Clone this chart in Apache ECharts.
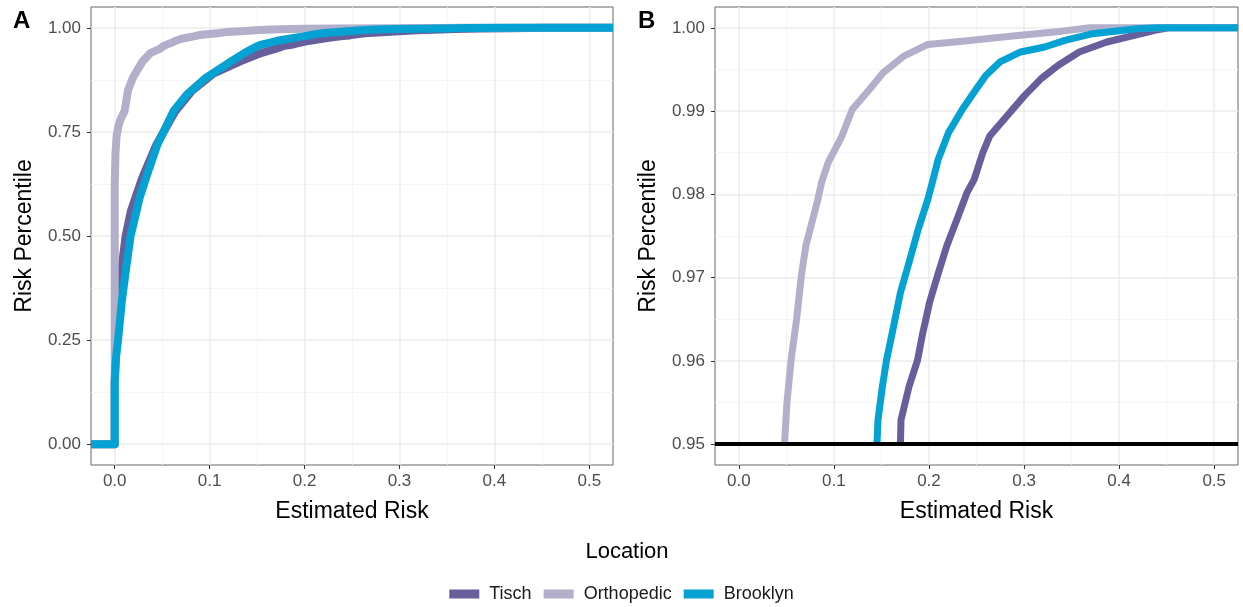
<!DOCTYPE html>
<html>
<head>
<meta charset="utf-8">
<script src="https://cdn.jsdelivr.net/npm/echarts@6/dist/echarts.min.js"></script>
<style>
  html, body { margin: 0; padding: 0; background: #ffffff; }
  #chart { width: 1243px; height: 607px; }
</style>
</head>
<body>
<div id="chart"></div>
<script>
// Cumulative distribution of estimated risk by location (ECDF, read as risk -> percentile)
const locations = ['Tisch', 'Orthopedic', 'Brooklyn'];

const tischRisk = [0.000, 0.000, 0.001, 0.002, 0.004, 0.0076, 0.0115, 0.017, 0.0215, 0.029, 0.044, 0.064, 0.082, 0.104, 0.133, 0.155, 0.170, 0.1706, 0.179, 0.188, 0.1934, 0.2006, 0.2089, 0.2187, 0.2295, 0.240, 0.2476, 0.2566, 0.2639, 0.282, 0.300, 0.318, 0.336, 0.358, 0.387, 0.416, 0.4375, 0.452];
const tischPct  = [0, 0.15, 0.20, 0.26, 0.35, 0.43, 0.50, 0.56, 0.59, 0.64, 0.72, 0.80, 0.85, 0.89, 0.92, 0.94, 0.95, 0.9529, 0.9569, 0.9601, 0.9633, 0.9670, 0.9702, 0.9738, 0.9770, 0.9802, 0.9818, 0.9850, 0.9870, 0.9894, 0.9918, 0.9939, 0.9955, 0.9971, 0.9983, 0.9991, 0.9997, 1.0];

const orthoRisk = [0.000, 0.000, 0.0008, 0.002, 0.0035, 0.006, 0.0104, 0.014, 0.0191, 0.0295, 0.038, 0.0481, 0.0506, 0.055, 0.0607, 0.0658, 0.0705, 0.0759, 0.0832, 0.087, 0.094, 0.1085, 0.1193, 0.1374, 0.1518, 0.1735, 0.1988, 0.235, 0.2856, 0.340, 0.369];
const orthoPct  = [0, 0.62, 0.70, 0.74, 0.76, 0.78, 0.80, 0.85, 0.88, 0.92, 0.94, 0.95, 0.9549, 0.9601, 0.9649, 0.9702, 0.9738, 0.9762, 0.9794, 0.9814, 0.9838, 0.9870, 0.9902, 0.9926, 0.9946, 0.9966, 0.9980, 0.9984, 0.9990, 0.9996, 1.0];

const brooklynRisk = [0.000, 0.000, 0.001, 0.0035, 0.0076, 0.0122, 0.0167, 0.023, 0.026, 0.033, 0.045, 0.062, 0.076, 0.096, 0.123, 0.137, 0.1453, 0.1464, 0.151, 0.1554, 0.1627, 0.170, 0.179, 0.1887, 0.1988, 0.2035, 0.2097, 0.2205, 0.235, 0.2494, 0.260, 0.2747, 0.2964, 0.3217, 0.343, 0.372, 0.419, 0.440];
const brooklynPct  = [0, 0.15, 0.20, 0.25, 0.3456, 0.4256, 0.50, 0.56, 0.59, 0.64, 0.72, 0.80, 0.84, 0.88, 0.92, 0.94, 0.95, 0.9529, 0.9569, 0.9601, 0.9641, 0.9682, 0.9718, 0.9758, 0.9794, 0.9814, 0.9842, 0.9874, 0.9902, 0.9926, 0.9943, 0.9959, 0.9971, 0.9977, 0.9985, 0.9993, 0.9999, 1.0];

// Tick values
const xTicks  = [0, 0.1, 0.2, 0.3, 0.4, 0.5];
const xMinor  = [0.05, 0.15, 0.25, 0.35, 0.45];
const yTicksA = [0, 0.25, 0.5, 0.75, 1];
const yMinorA = [0.125, 0.375, 0.625, 0.875];
const yTicksB = [0.95, 0.96, 0.97, 0.98, 0.99, 1];
const yMinorB = [0.955, 0.965, 0.975, 0.985, 0.995];

// Axis limits (data range plus 5% padding)
const xLimits  = [-0.025, 0.525];
const yLimitsA = [-0.05, 1.05];
const yLimitsB = [0.9475, 1.0025];

// Upper-tail cutoff shown in panel B
const cutoff = 0.95;

const palette = { Tisch: '#675f9b', Orthopedic: '#b2afcb', Brooklyn: '#04a2d3' };
const curves = {
  Tisch: [tischRisk, tischPct],
  Orthopedic: [orthoRisk, orthoPct],
  Brooklyn: [brooklynRisk, brooklynPct]
};

const FONT = 'Liberation Sans, Arial, Helvetica, sans-serif';
const GRID_MAJOR = { color: '#ebebeb', width: 1.5 };
const GRID_MINOR = { color: '#f3f3f3', width: 0.8 };

// ECDF points at or above minPct; the step function is padded out to the
// axis limits (0 on the left, 1 on the right).
function points(risk, pct, minPct) {
  const out = [];
  if (pct[0] >= minPct) out.push([xLimits[0], pct[0]]);
  for (let i = 0; i < risk.length; i++) {
    if (pct[i] >= minPct) out.push([risk[i], pct[i]]);
  }
  out.push([xLimits[1], pct[pct.length - 1]]);
  return out;
}

function majorX(gridIndex) {
  return {
    type: 'value', gridIndex: gridIndex, min: xLimits[0], max: xLimits[1],
    position: 'bottom',
    axisLine: { show: false, onZero: false },
    axisTick: { show: true, length: 4, customValues: xTicks, lineStyle: { color: '#333333', width: 1 } },
    axisLabel: { customValues: xTicks, formatter: v => v.toFixed(1), color: '#4d4d4d', fontSize: 17, fontFamily: FONT, margin: 8 },
    splitLine: { show: true, lineStyle: GRID_MAJOR },
    name: 'Estimated Risk', nameLocation: 'middle', nameGap: 35,
    nameTextStyle: { fontSize: 23, color: '#000000', fontFamily: FONT }
  };
}
function minorX(gridIndex) {
  return {
    type: 'value', gridIndex: gridIndex, min: xLimits[0], max: xLimits[1], position: 'top',
    axisLine: { show: false, onZero: false }, axisTick: { show: false, customValues: xMinor },
    axisLabel: { show: false, customValues: xMinor },
    splitLine: { show: true, lineStyle: GRID_MINOR }
  };
}
function majorY(gridIndex, limits, ticks) {
  return {
    type: 'value', gridIndex: gridIndex, min: limits[0], max: limits[1], position: 'left',
    axisLine: { show: false, onZero: false },
    axisTick: { show: true, length: 4, customValues: ticks, lineStyle: { color: '#333333', width: 1 } },
    axisLabel: { customValues: ticks, formatter: v => v.toFixed(2), color: '#4d4d4d', fontSize: 17, fontFamily: FONT, margin: 10 },
    splitLine: { show: true, lineStyle: GRID_MAJOR },
    name: 'Risk Percentile', nameLocation: 'middle', nameGap: 55,
    nameTextStyle: { fontSize: 23, color: '#000000', fontFamily: FONT }
  };
}
function minorY(gridIndex, limits, ticks) {
  return {
    type: 'value', gridIndex: gridIndex, min: limits[0], max: limits[1], position: 'right',
    axisLine: { show: false, onZero: false }, axisTick: { show: false, customValues: ticks },
    axisLabel: { show: false, customValues: ticks },
    splitLine: { show: true, lineStyle: GRID_MINOR }
  };
}

const series = [];
// Panel A: full distribution; panel B: upper tail from the cutoff
[[0, -Infinity, 8], [1, cutoff, 7]].forEach(([panel, minPct, width]) => {
  locations.forEach(name => {
    const [risk, pct] = curves[name];
    series.push({
      name: name, type: 'line', xAxisIndex: panel * 2, yAxisIndex: panel * 2,
      data: points(risk, pct, minPct),
      showSymbol: false, symbol: 'none', smooth: false, clip: true,
      color: palette[name],
      lineStyle: { color: palette[name], width: width, cap: 'butt', join: 'round' },
      emphasis: { disabled: true }, z: 2
    });
  });
});
// Reference line at the cutoff in panel B
series.push({
  name: 'cutoff', type: 'line', xAxisIndex: 2, yAxisIndex: 2, data: [],
  markLine: {
    silent: true, symbol: ['none', 'none'], label: { show: false },
    lineStyle: { color: '#000000', width: 4, type: 'solid' },
    data: [{ yAxis: cutoff }], animation: false
  },
  z: 6
});

const option = {
  animation: false,
  backgroundColor: '#ffffff',
  textStyle: { fontFamily: FONT },
  grid: [
    { left: 91, top: 7, width: 522, height: 458, show: true, borderColor: '#666666', borderWidth: 1, backgroundColor: 'transparent' },
    { left: 715, top: 7, width: 523, height: 458, show: true, borderColor: '#666666', borderWidth: 1, backgroundColor: 'transparent' }
  ],
  xAxis: [majorX(0), minorX(0), majorX(1), minorX(1)],
  yAxis: [
    majorY(0, yLimitsA, yTicksA), minorY(0, yLimitsA, yMinorA),
    majorY(1, yLimitsB, yTicksB), minorY(1, yLimitsB, yMinorB)
  ],
  legend: {
    data: locations, left: 'center', top: 580,
    icon: 'rect', itemWidth: 30, itemHeight: 9, itemGap: 12,
    textStyle: { fontSize: 18, color: '#1a1a1a', fontFamily: FONT, padding: [0, 0, 0, 5] },
    selectedMode: false
  },
  graphic: [
    { type: 'text', left: 13, top: 9, style: { text: 'A', font: 'bold 24px ' + FONT, fill: '#000000' } },
    { type: 'text', left: 638, top: 9, style: { text: 'B', font: 'bold 24px ' + FONT, fill: '#000000' } },
    { type: 'text', x: 627, y: 552, style: { text: 'Location', font: '22px ' + FONT, fill: '#000000', textAlign: 'center', textVerticalAlign: 'middle' } }
  ],
  series: series
};

const chart = echarts.init(document.getElementById('chart'), null, { renderer: 'canvas' });
chart.setOption(option);
</script>
</body>
</html>
